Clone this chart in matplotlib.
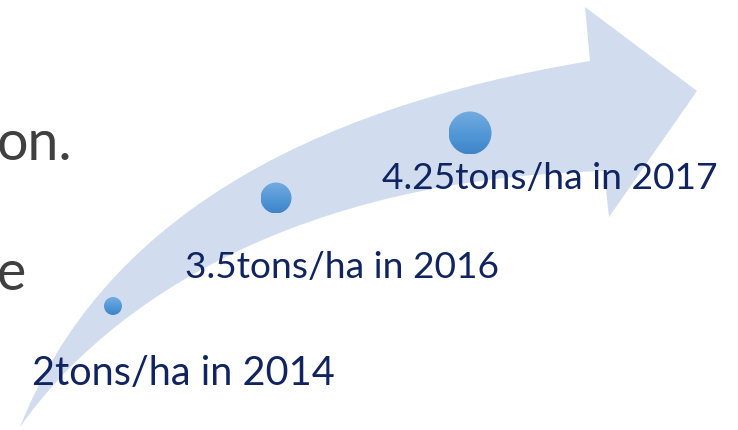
import numpy as np
import matplotlib
matplotlib.use("Agg")
import matplotlib.pyplot as plt
from matplotlib.path import Path
from matplotlib.patches import PathPatch, Circle
from matplotlib.colors import LinearSegmentedColormap

# ---- data ----
years = [2014, 2016, 2017]
yields = [2, 3.5, 4.25]
unit = "tons/ha"
labels = [f"{y:g}{unit} in {yr}" for y, yr in zip(yields, years)]
side_texts = ["on.", "e"]

# ---- layout (pixel coordinates of the slide) ----
W, H = 738, 431
bubble_xy = [(113, 307), (276, 199), (470, 134)]
bubble_r = [9, 15.5, 21.5]
label_xy = [(32, 385), (185, 278), (382, 189)]
label_size = [28.5, 26.7, 26.7]
side_xy = [(-3, 160), (-3, 290)]

arrow_color = "#D1DDEF"
label_color = "#0F2460"
side_color = "#404040"
font = ["Lato", "DejaVu Sans"]

fig = plt.figure(figsize=(W / 100, H / 100), dpi=100)
ax = fig.add_axes([0, 0, 1, 1])
ax.set_xlim(0, W)
ax.set_ylim(H, 0)
ax.axis("off")

# curved arrow
verts = [
    (20, 428), (110, 300), (300, 180), (604, 172),   # lower edge
    (609, 218), (697, 92), (585, 8), (590, 62),       # head
    (300, 110), (100, 225), (20, 428),                # upper edge back
    (20, 428),
]
codes = [Path.MOVETO, Path.CURVE4, Path.CURVE4, Path.CURVE4,
         Path.LINETO, Path.LINETO, Path.LINETO, Path.LINETO,
         Path.CURVE4, Path.CURVE4, Path.CURVE4, Path.CLOSEPOLY]
ax.add_patch(PathPatch(Path(verts, codes), facecolor=arrow_color,
                       edgecolor="none", zorder=1))

# gradient bubbles
cmap = LinearSegmentedColormap.from_list("b", ["#74ABDF", "#5599D8", "#3E84C8"])
grad = np.linspace(0, 1, 64).reshape(-1, 1)
for (cx, cy), r in zip(bubble_xy, bubble_r):
    im = ax.imshow(grad, cmap=cmap, extent=(cx - r, cx + r, cy + r, cy - r),
                   aspect="auto", zorder=3, interpolation="bilinear")
    circ = Circle((cx, cy), r, transform=ax.transData, facecolor="none",
                  edgecolor="none")
    ax.add_patch(circ)
    im.set_clip_path(circ)
ax.set_xlim(0, W)
ax.set_ylim(H, 0)

for txt, (x, y), fs in zip(labels, label_xy, label_size):
    ax.text(x, y, txt, color=label_color, fontsize=fs, family=font,
            ha="left", va="baseline", zorder=4)

for txt, (x, y) in zip(side_texts, side_xy):
    ax.text(x, y, txt, color=side_color, fontsize=40, family=font,
            ha="left", va="baseline", zorder=4)

fig.savefig("out.png", dpi=100)
